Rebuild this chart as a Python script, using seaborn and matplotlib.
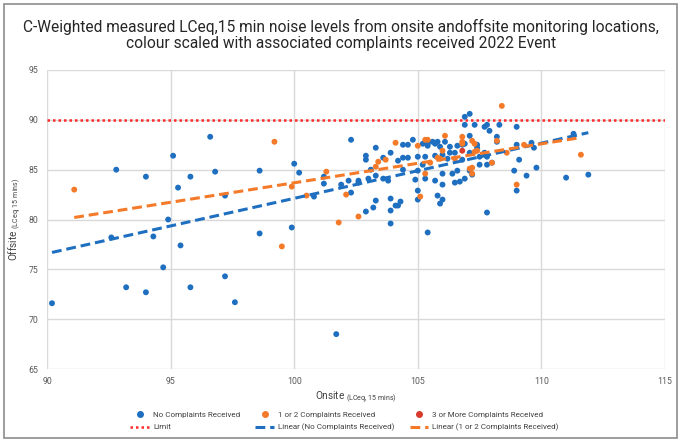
import numpy as np
import pandas as pd
import seaborn as sns
import matplotlib.pyplot as plt
from matplotlib.lines import Line2D
from matplotlib.patches import Rectangle

# onsite / offsite LCeq,15 min readings
no_x = [90.2, 92.6, 92.8, 93.2, 94.0, 94.0, 94.3, 94.7, 94.9, 95.1, 95.3, 95.4, 95.8, 95.8,
        96.6, 96.8, 97.2, 97.2, 97.6, 98.6, 98.6, 99.9, 100.0, 100.2, 100.8, 101.2, 101.2,
        101.7, 101.9, 102.2, 102.3, 102.3, 102.6, 102.6, 102.9, 102.9, 102.9, 103.0, 103.1,
        103.2, 103.3, 103.3, 103.3, 103.6, 103.6, 103.8, 103.9, 103.9, 103.9, 103.9, 104.1,
        104.2, 104.2, 104.3, 104.4, 104.4, 104.4, 104.6, 104.6, 104.8, 104.9, 105.0, 105.0,
        105.0, 105.0, 105.2, 105.2, 105.3, 105.3, 105.4, 105.4, 105.4, 105.6, 105.7, 105.7,
        105.7, 105.8, 105.8, 105.9, 105.9, 106.0, 106.0, 106.0, 106.0, 106.1, 106.2, 106.3,
        106.3, 106.4, 106.5, 106.5, 106.6, 106.6, 106.7, 106.8, 106.8, 106.9, 106.9, 106.9,
        106.9, 107.1, 107.1, 107.1, 107.1, 107.2, 107.3, 107.4, 107.4, 107.5, 107.5, 107.7,
        107.7, 107.8, 107.8, 107.8, 107.8, 107.9, 108.0, 108.2, 108.2, 108.3, 108.9, 109.0,
        109.0, 109.0, 109.1, 109.4, 109.6, 109.7, 109.8, 111.0, 111.3, 111.9]
no_y = [71.6, 78.2, 85.0, 73.2, 84.3, 72.7, 78.3, 75.2, 80.0, 86.4, 83.2, 77.4, 84.3, 73.2,
        88.3, 84.8, 82.4, 74.3, 71.7, 84.9, 78.6, 79.2, 85.6, 84.7, 82.3, 84.3, 83.6,
        68.5, 83.5, 83.9, 88.0, 82.7, 83.9, 83.7, 86.4, 86.0, 80.8, 84.1, 85.0,
        81.2, 87.2, 84.4, 81.9, 86.2, 84.1, 83.9, 86.7, 82.1, 80.9, 79.6, 81.4,
        85.9, 81.4, 81.8, 87.5, 86.2, 85.0, 87.5, 86.2, 88.0, 84.0, 86.3, 84.9,
        82.9, 82.0, 87.6, 85.5, 86.3, 84.1, 87.6, 87.4, 78.7, 87.8, 87.6, 86.4,
        83.9, 87.8, 82.4, 87.3, 81.6, 84.6, 86.5, 83.5, 82.0, 87.8, 86.1, 87.3,
        86.7, 84.6, 86.7, 83.7, 87.4, 84.9, 83.8, 87.5, 86.0, 90.3, 89.5, 87.6,
        84.1, 90.6, 88.4, 86.7, 84.9, 84.5, 89.5, 87.5, 87.2, 86.3, 85.5, 89.3,
        86.7, 89.5, 86.3, 85.5, 80.7, 88.9, 85.7, 88.3, 87.8, 89.5, 84.9, 89.3,
        87.5, 82.9, 86.0, 84.4, 87.7, 87.2, 85.2, 84.2, 88.6, 84.5]

one_x = [91.1, 99.2, 99.5, 99.9, 100.5, 101.3, 101.8, 102.1, 102.6, 103.3, 103.4, 103.7,
         104.1, 105.0, 105.1, 105.3, 105.4, 105.3, 105.5, 105.8, 105.9, 106.0, 106.1, 106.5,
         106.8, 106.8, 106.8, 107.1, 107.2, 107.2, 107.2, 107.3, 107.3, 107.4, 108.0, 108.2,
         108.4, 108.6, 109.0, 109.3, 111.6]
one_y = [83.0, 87.8, 77.3, 83.3, 82.4, 84.8, 79.7, 82.5, 80.3, 85.3, 85.8, 86.0,
         87.7, 87.4, 82.3, 88.0, 88.0, 84.6, 85.7, 86.2, 86.1, 86.9, 88.4, 86.1,
         88.3, 87.8, 87.6, 85.1, 87.9, 85.2, 84.6, 87.6, 86.8, 86.9, 85.7, 87.9,
         91.4, 86.7, 83.5, 87.5, 86.5]

three_x = [106.8]
three_y = [86.9]

limit = 90

groups = ["No Complaints Received", "1 or 2 Complaints Received", "3 or More Complaints Received"]
colors = ["#1f6fc0", "#f47a2a", "#d83b2b"]

df = pd.DataFrame({
    "onsite": no_x + one_x + three_x,
    "offsite": no_y + one_y + three_y,
    "group": [groups[0]] * len(no_x) + [groups[1]] * len(one_x) + [groups[2]] * len(three_x),
})

sns.set_style("white")
plt.rcParams["font.family"] = ["Roboto", "DejaVu Sans"]

fig = plt.figure(figsize=(6.82, 4.43), dpi=100)
ax = fig.add_axes([0.069, 0.167, 0.906, 0.675])

# chart frame like the excel export
fig.patches.append(Rectangle((0.006, 0.012), 0.986, 0.978, transform=fig.transFigure,
                             fill=False, edgecolor="#8c8c8c", lw=1.2))

ax.axhline(limit, color="#ff2a2a", ls=(0, (1, 1.2)), lw=1.8, zorder=2)

sns.scatterplot(data=df, x="onsite", y="offsite", hue="group", hue_order=groups,
                palette=colors, s=18, linewidth=0, ax=ax, legend=False, zorder=3)

for gx, gy, c in [(no_x, no_y, colors[0]), (one_x, one_y, colors[1])]:
    sns.regplot(x=np.array(gx), y=np.array(gy), scatter=False, ci=None, ax=ax,
                line_kws={"color": c, "lw": 2.2, "ls": (0, (3.2, 1.6)), "zorder": 4})

ax.set_xlim(90, 115)
ax.set_ylim(65, 95)
ax.set_xticks(range(90, 116, 5))
ax.set_yticks(range(65, 96, 5))
ax.grid(True, color="#d9d9d9", lw=1)
for s in ax.spines.values():
    s.set_visible(False)
ax.tick_params(labelsize=6.3, labelcolor="#595959", length=0, pad=6)
ax.set_xlabel("Onsite $_{\\mathregular{(LCeq,15\\ mins)}}$", fontsize=7.2, color="#404040", labelpad=2)
ax.set_ylabel("Offsite $_{\\mathregular{(LCeq,15\\ mins)}}$", fontsize=7.2, color="#404040", labelpad=4)

fig.suptitle("C-Weighted measured LCeq,15 min noise levels from onsite andoffsite monitoring locations,\n"
             "colour scaled with associated complaints received 2022 Event",
             y=0.958, fontsize=11.2, color="#262626", linespacing=1.12)

handles = [
    Line2D([], [], ls="none", marker="o", ms=4, color=colors[0]),
    Line2D([], [], color="#ff2a2a", ls=(0, (1, 1.2)), lw=1.8),
    Line2D([], [], ls="none", marker="o", ms=4, color=colors[1]),
    Line2D([], [], color=colors[0], lw=2.2, ls=(0, (3.2, 1.6))),
    Line2D([], [], ls="none", marker="o", ms=4, color=colors[2]),
    Line2D([], [], color=colors[1], lw=2.2, ls=(0, (3.2, 1.6))),
]
labels = [groups[0], "Limit", groups[1], "Linear (No Complaints Received)",
          groups[2], "Linear (1 or 2 Complaints Received)"]
fig.legend(handles, labels, loc="center", bbox_to_anchor=(0.505, 0.049), ncol=3, frameon=False,
           fontsize=5.8, labelcolor="#404040", columnspacing=1.9, handlelength=2.3,
           handletextpad=0.5, labelspacing=0.75)

fig.savefig("out.png", dpi=100)
